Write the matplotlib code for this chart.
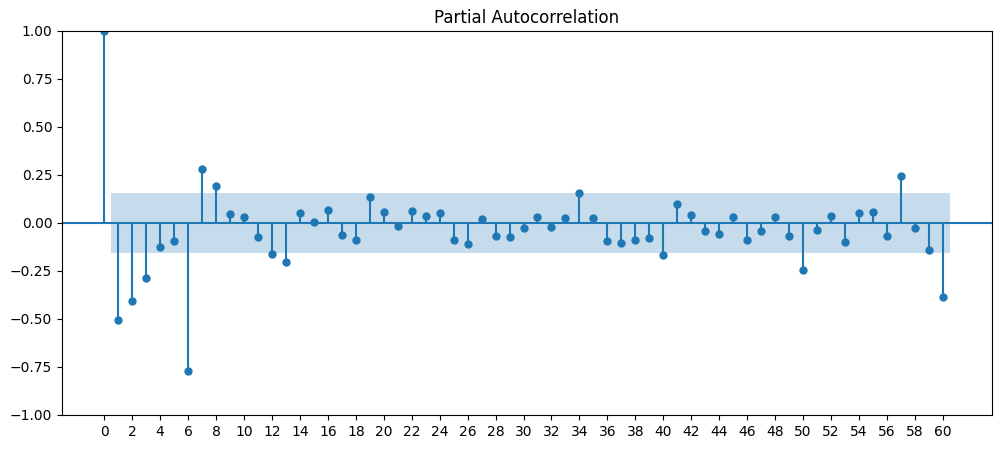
from matplotlib import pyplot as plt
import numpy as np

# partial autocorrelation values, lags 0..60
lags = np.arange(0, 61)
pacf_vals = [
    1.0, -0.505, -0.405, -0.285, -0.124, -0.092, -0.772, 0.283, 0.194, 0.048,
    0.032, -0.071, -0.160, -0.201, 0.053, 0.006, 0.069, -0.061, -0.087, 0.137,
    0.059, -0.015, 0.064, 0.038, 0.053, -0.087, -0.108, 0.022, -0.066, -0.071,
    -0.025, 0.032, -0.020, 0.027, 0.157, 0.027, -0.092, -0.103, -0.087, -0.076,
    -0.165, 0.099, 0.043, -0.041, -0.056, 0.032, -0.087, -0.041, 0.032, -0.066,
    -0.243, -0.036, 0.038, -0.097, 0.053, 0.059, -0.066, 0.245, -0.025, -0.139,
    -0.383,
]
conf_bound = 0.156
tick_labels = [str(v) for v in range(0, 61, 2)]

fig = plt.figure(figsize=(10.02, 4.49), dpi=100)
ax = fig.add_axes([62 / 1002, 34 / 449, 930 / 1002, 384 / 449])

ax.vlines(lags, [0], pacf_vals, color="C0")
ax.axhline(0, color="C0")
ax.margins(0.05)
ax.plot(lags, pacf_vals, marker="o", markersize=5, linestyle="None", color="C0")

band_x = lags[1:].astype(float)
band_x[0] -= 0.5
band_x[-1] += 0.5
ax.fill_between(band_x, -conf_bound, conf_bound, alpha=0.25, linewidth=0, color="C0")

ax.set_ylim(-1, 1)
ax.set_xticks(range(0, 61, 2))
ax.set_xticklabels(tick_labels)
ax.set_title("Partial Autocorrelation")

fig.savefig("out.png")
